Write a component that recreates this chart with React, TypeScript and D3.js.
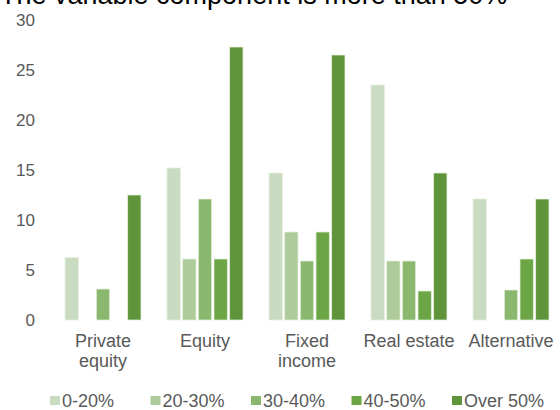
import React, { useEffect, useRef } from 'react';
import * as d3 from 'd3';

const title = 'The variable component is more than 50%';
const categories = ['Private equity', 'Equity', 'Fixed income', 'Real estate', 'Alternative'];
const categoryLabels = [['Private', 'equity'], ['Equity'], ['Fixed', 'income'], ['Real estate'], ['Alternative']];
const series = ['0-20%', '20-30%', '30-40%', '40-50%', 'Over 50%'];
const colors = ['#c9dcc1', '#aecb9b', '#8ab86e', '#6ba545', '#5f943b'];
// rows = categories, columns = series (0 = no bar)
const privateEquity = [6.25, 0, 3.1, 0, 12.5];
const equity = [15.2, 6.1, 12.1, 6.1, 27.3];
const fixedIncome = [14.7, 8.8, 5.9, 8.8, 26.5];
const realEstate = [23.5, 5.9, 5.9, 2.9, 14.7];
const alternative = [12.1, 0, 3.0, 6.1, 12.1];
const yTicks = [0, 5, 10, 15, 20, 25, 30];

const values = [privateEquity, equity, fixedIncome, realEstate, alternative];

const App = () => {
  const ref = useRef<SVGSVGElement>(null);

  useEffect(() => {
    const svg = d3.select(ref.current);
    svg.selectAll('*').remove();

    const font = '"Liberation Sans", Arial, sans-serif';
    const grey = '#595959';

    const x0 = d3.scaleBand().domain(categories).range([52, 562]).paddingInner(0.24).paddingOuter(0.12);
    const x1 = d3.scaleBand().domain(series).range([0, x0.bandwidth()]).paddingInner(0.15).paddingOuter(0.05);
    const y = d3.scaleLinear().domain([0, 30]).range([320, 20]);

    svg.append('text')
      .attr('x', 0)
      .attr('y', 4)
      .attr('font-family', font)
      .attr('font-size', 27)
      .attr('fill', '#000')
      .text(title);

    // y labels
    svg.append('g')
      .selectAll('text')
      .data(yTicks)
      .enter()
      .append('text')
      .attr('x', 35)
      .attr('y', (d) => y(d) + 6)
      .attr('text-anchor', 'end')
      .attr('font-family', font)
      .attr('font-size', 17)
      .attr('fill', grey)
      .text((d) => d);

    const groups = svg.append('g')
      .selectAll('g')
      .data(categories)
      .enter()
      .append('g')
      .attr('transform', (d) => `translate(${x0(d)},0)`);

    groups.selectAll('rect')
      .data((d, i) => values[i].map((v, j) => ({ s: series[j], v, c: colors[j] })).filter((e) => e.v > 0))
      .enter()
      .append('rect')
      .attr('x', (d) => x1(d.s)!)
      .attr('y', (d) => y(d.v))
      .attr('width', x1.bandwidth())
      .attr('height', (d) => y(0) - y(d.v))
      .attr('fill', (d) => d.c)
      .attr('stroke', '#e4efdc')
      .attr('stroke-width', 0.75);

    // category labels
    groups.append('text')
      .attr('text-anchor', 'middle')
      .attr('font-family', font)
      .attr('font-size', 18)
      .attr('fill', grey)
      .selectAll('tspan')
      .data((d, i) => categoryLabels[i])
      .enter()
      .append('tspan')
      .attr('x', x0.bandwidth() / 2)
      .attr('y', (d, i) => 347 + i * 20)
      .text((d) => d);

    // legend
    const lx = d3.scaleLinear().domain([0, 4]).range([50, 452]);
    const legend = svg.append('g')
      .selectAll('g')
      .data(series)
      .enter()
      .append('g')
      .attr('transform', (d, i) => `translate(${lx(i)},0)`);
    legend.append('rect')
      .attr('x', 0)
      .attr('y', 396)
      .attr('width', 10)
      .attr('height', 9)
      .attr('fill', (d, i) => colors[i]);
    legend.append('text')
      .attr('x', 12)
      .attr('y', 407)
      .attr('font-family', font)
      .attr('font-size', 18)
      .attr('fill', grey)
      .text((d) => d);
  }, []);

  return (
    <svg
      ref={ref}
      width={560}
      height={410}
      style={{ position: 'absolute', left: 0, top: 0, background: '#fff' }}
    />
  );
};

export default App;
